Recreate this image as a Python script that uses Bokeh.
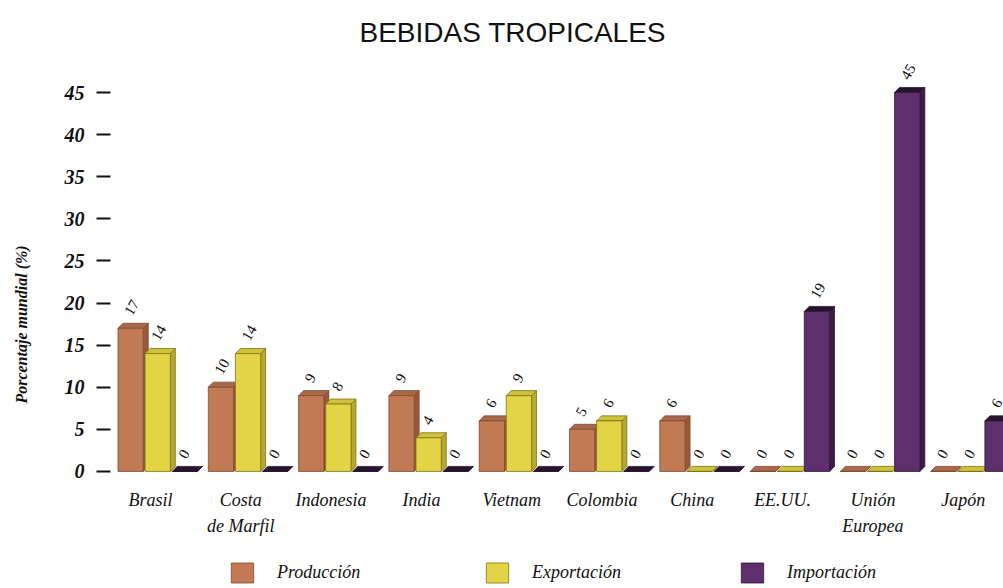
import numpy as np
from bokeh.plotting import figure
from bokeh.models import Range1d, FixedTicker, Legend, LegendItem, Title, ColumnDataSource, LinearAxis
from bokeh.embed import file_html
from bokeh.resources import INLINE
from bokeh.core.properties import value

# ---- data ----
categories = ["Brasil", "Costa", "Indonesia", "India", "Vietnam",
              "Colombia", "China", "EE.UU.", "Unión", "Japón"]
categories_line2 = ["", "de Marfil", "", "", "", "", "", "", "Europea", ""]
produccion = [17, 10, 9, 9, 6, 5, 6, 0, 0, 0]
exportacion = [14, 14, 8, 4, 9, 6, 0, 0, 0, 0]
importacion = [0, 0, 0, 0, 0, 0, 0, 19, 45, 6]
series_names = ["Producción", "Exportación", "Importación"]
y_ticks = [0, 5, 10, 15, 20, 25, 30, 35, 40, 45]

# ---- styles ----
front_colors = ["#c27a55", "#e2d444", "#5e2f6c"]
side_colors = ["#98583a", "#b8a82c", "#3c1c46"]
top_colors = ["#a9684a", "#cfc23a", "#26142c"]
line_colors = ["#7e4a30", "#7d741c", "#2e1636"]
offsets = [-0.22, 0.08, 0.38]
bar_w = 0.28
dx = 0.055
dy = 0.6

p = figure(width=1003, height=588,
           x_range=Range1d(-0.443, 9.446), y_range=Range1d(-13.9, 48.8),
           output_backend="svg", toolbar_location=None,
           min_border_left=110, min_border_right=0,
           min_border_top=60, min_border_bottom=0)
p.outline_line_color = None
p.grid.visible = False
p.background_fill_color = "white"
p.border_fill_color = "white"

p.title = Title(text="BEBIDAS TROPICALES", align="left", offset=249,
                text_font="Liberation Sans", text_font_style="normal",
                text_font_size="28px", text_color="#111111", standoff=26)

all_vals = [produccion, exportacion, importacion]
legend_items = []
n = len(categories)
for s, vals in enumerate(all_vals):
    cx = [i + offsets[s] for i in range(n)]
    x0 = [c - bar_w / 2 for c in cx]
    x1 = [c + bar_w / 2 for c in cx]
    side_xs = [[a, a + dx, a + dx, a] for a in x1]
    side_ys = [[0, dy, v + dy, v] for v in vals]
    top_xs = [[a, a + dx, b + dx, b] for a, b in zip(x0, x1)]
    top_ys = [[v, v + dy, v + dy, v] for v in vals]
    p.patches(side_xs, side_ys, fill_color=side_colors[s], line_color=line_colors[s], line_width=0.8)
    p.patches(top_xs, top_ys, fill_color=top_colors[s], line_color=line_colors[s], line_width=0.8)
    src = ColumnDataSource(dict(x=cx, top=vals))
    r = p.vbar(x="x", top="top", bottom=0, width=bar_w, source=src,
               fill_color=front_colors[s], line_color=line_colors[s], line_width=0.8)
    legend_items.append(LegendItem(label=series_names[s], renderers=[r]))
    lbl = ColumnDataSource(dict(x=[c - 0.03 for c in cx], y=[v + 1.7 for v in vals],
                                text=[str(v) for v in vals]))
    p.text(x="x", y="y", text="text", source=lbl, angle=np.pi / 3,
           text_align="left", text_baseline="middle",
           text_font=value("Liberation Serif"), text_font_size="15px", text_color="#111111")


def style_xaxis(ax, labels, standoff):
    ax.ticker = FixedTicker(ticks=list(range(n)))
    ax.major_label_overrides = {i: c for i, c in enumerate(labels)}
    ax.fixed_location = 0
    ax.axis_line_color = None
    ax.major_tick_line_color = None
    ax.minor_tick_line_color = None
    ax.major_label_text_font = "Liberation Serif"
    ax.major_label_text_font_style = "italic"
    ax.major_label_text_font_size = "18px"
    ax.major_label_text_color = "#111111"
    ax.major_label_standoff = standoff


style_xaxis(p.xaxis[0], categories, 13)
x2 = LinearAxis()
style_xaxis(x2, categories_line2, 39)
p.add_layout(x2, "below")

p.yaxis.ticker = FixedTicker(ticks=y_ticks)
p.yaxis.axis_line_color = None
p.yaxis.major_tick_in = 0
p.yaxis.major_tick_out = 14
p.yaxis.major_tick_line_width = 2
p.yaxis.major_tick_line_color = "#111111"
p.yaxis.minor_tick_line_color = None
p.yaxis.major_label_standoff = 12
p.yaxis.major_label_text_font = "Liberation Serif"
p.yaxis.major_label_text_font_style = "bold italic"
p.yaxis.major_label_text_font_size = "20px"
p.yaxis.major_label_text_color = "#111111"
p.yaxis.axis_label = "Porcentaje mundial (%)"
p.yaxis.axis_label_text_font = "Liberation Serif"
p.yaxis.axis_label_text_font_style = "bold italic"
p.yaxis.axis_label_text_font_size = "16px"
p.yaxis.axis_label_text_color = "#111111"
p.yaxis.axis_label_standoff = 32

legend = Legend(items=legend_items, orientation="horizontal", location=(118, 3),
                glyph_width=28, glyph_height=25, label_width=100, label_standoff=21,
                spacing=106, padding=0, margin=0,
                label_text_font="Liberation Serif", label_text_font_style="italic",
                label_text_font_size="18px", label_text_color="#111111",
                border_line_color=None, background_fill_alpha=0)
p.add_layout(legend, "center")

open("out.html", "w").write(file_html(p, INLINE))
